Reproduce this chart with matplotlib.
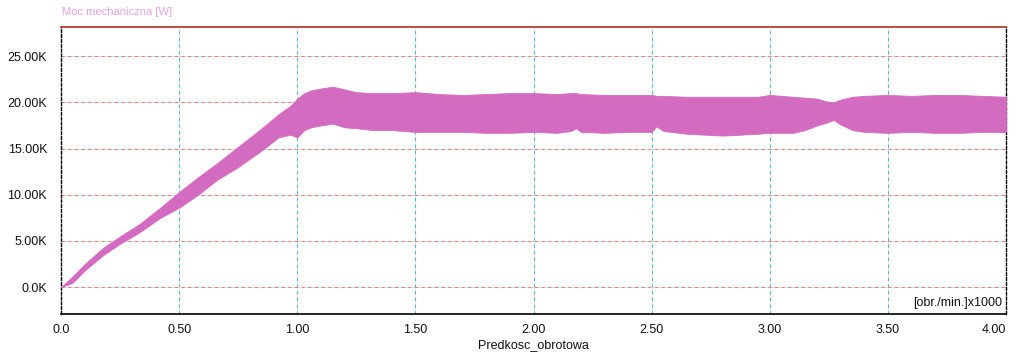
import matplotlib.pyplot as plt

plt.rcParams['font.family'] = ['Liberation Sans', 'DejaVu Sans']

# obwiednia pasma mocy (x w tys. obr/min, y w W)
predkosc = [0.0, 0.05, 0.10, 0.18, 0.25, 0.33, 0.42, 0.50, 0.58, 0.66, 0.75,
            0.85, 0.92, 0.97, 1.00, 1.03, 1.06, 1.10, 1.15, 1.20, 1.25, 1.32,
            1.40, 1.50, 1.60, 1.70, 1.80, 1.90, 2.00, 2.10, 2.16, 2.18, 2.20,
            2.30, 2.40, 2.50, 2.52, 2.55, 2.65, 2.80, 2.95, 3.00, 3.10, 3.15,
            3.20, 3.24, 3.27, 3.30, 3.35, 3.40, 3.50, 3.60, 3.70, 3.80, 3.90,
            4.00]
moc_max = [0, 1200, 2500, 4300, 5500, 6800, 8600, 10300, 11900, 13400, 15200,
           17200, 18700, 19600, 20400, 21000, 21300, 21500, 21700, 21400, 21100,
           21000, 21000, 21100, 20900, 20800, 20900, 21000, 21000, 20900, 21000,
           21000, 20900, 20800, 20800, 20800, 20700, 20700, 20600, 20600, 20600,
           20800, 20600, 20500, 20400, 20100, 20000, 20300, 20600, 20700, 20800,
           20700, 20800, 20800, 20700, 20600]
moc_min = [0, 500, 1800, 3500, 4700, 5900, 7500, 8600, 10000, 11600, 13000,
           14800, 16200, 16500, 16200, 17000, 17300, 17500, 17700, 17300, 17200,
           17000, 17000, 16800, 16800, 16800, 16700, 16700, 16800, 16700, 16900,
           17200, 16800, 16700, 16800, 16800, 17400, 16900, 16600, 16400, 16600,
           16700, 16700, 17000, 17500, 17800, 18100, 17600, 17000, 16800, 16700,
           16800, 16700, 16700, 16800, 16800]

x_ticks = [0.0, 0.5, 1.0, 1.5, 2.0, 2.5, 3.0, 3.5, 4.0]
x_labels = ['0.0', '0.50', '1.00', '1.50', '2.00', '2.50', '3.00', '3.50', '4.00']
y_ticks = [0, 5000, 10000, 15000, 20000, 25000]
y_labels = ['0.0K', '5.00K', '10.00K', '15.00K', '20.00K', '25.00K']

fig = plt.figure(figsize=(10.16, 3.58), dpi=100)
ax = fig.add_axes([61 / 1016, 44 / 358, 945 / 1016, 287 / 358])

ax.fill_between(predkosc, moc_min, moc_max, color='#d36cc0', lw=0.6,
                edgecolor='#d36cc0', zorder=3)

ax.set_xlim(0, 4.0)
ax.set_ylim(-2900, 28150)
ax.set_xticks(x_ticks)
ax.set_xticklabels(x_labels)
ax.set_yticks(y_ticks)
ax.set_yticklabels(y_labels)
ax.tick_params(length=0, labelsize=9, colors='#111111')
ax.tick_params(axis='x', pad=7)
ax.tick_params(axis='y', pad=10)
ax.get_xticklabels()[-1].set_ha('right')

# siatka: pionowe niebieskie, poziome czerwonawe
for xv in x_ticks[1:-1]:
    ax.axvline(xv, color='#4cb4d4', lw=0.8, ls=(0, (3, 3)),
               gapcolor='#fae4de', zorder=1)
for yv in y_ticks:
    ax.axhline(yv, color='#e8826e', lw=0.8, ls=(0, (3, 3)),
               gapcolor='#c8e6f0', zorder=1)

ax.spines['top'].set_color('#b03020')
ax.spines['top'].set_linewidth(1.2)
ax.spines['bottom'].set_color('black')
ax.spines['bottom'].set_linewidth(1.2)
for s in ['left', 'right']:
    ax.spines[s].set_color('black')
    ax.spines[s].set_linestyle((0, (2, 1.5)))
    ax.spines[s].set_linewidth(1.0)

fig.text(62 / 1016, 1 - 12 / 358, 'Moc mechaniczna [W]', color='#e4a0e0',
         fontsize=8, va='center', ha='left')
ax.text(0.996, 0.04, '[obr./min.]x1000', transform=ax.transAxes,
        ha='right', va='center', fontsize=9, color='#111111')
fig.text(0.5 * (61 + 1006) / 1016, 1 - 345 / 358, 'Predkosc_obrotowa',
         fontsize=9, ha='center', va='center', color='#111111')

fig.savefig('out.png', dpi=100)
